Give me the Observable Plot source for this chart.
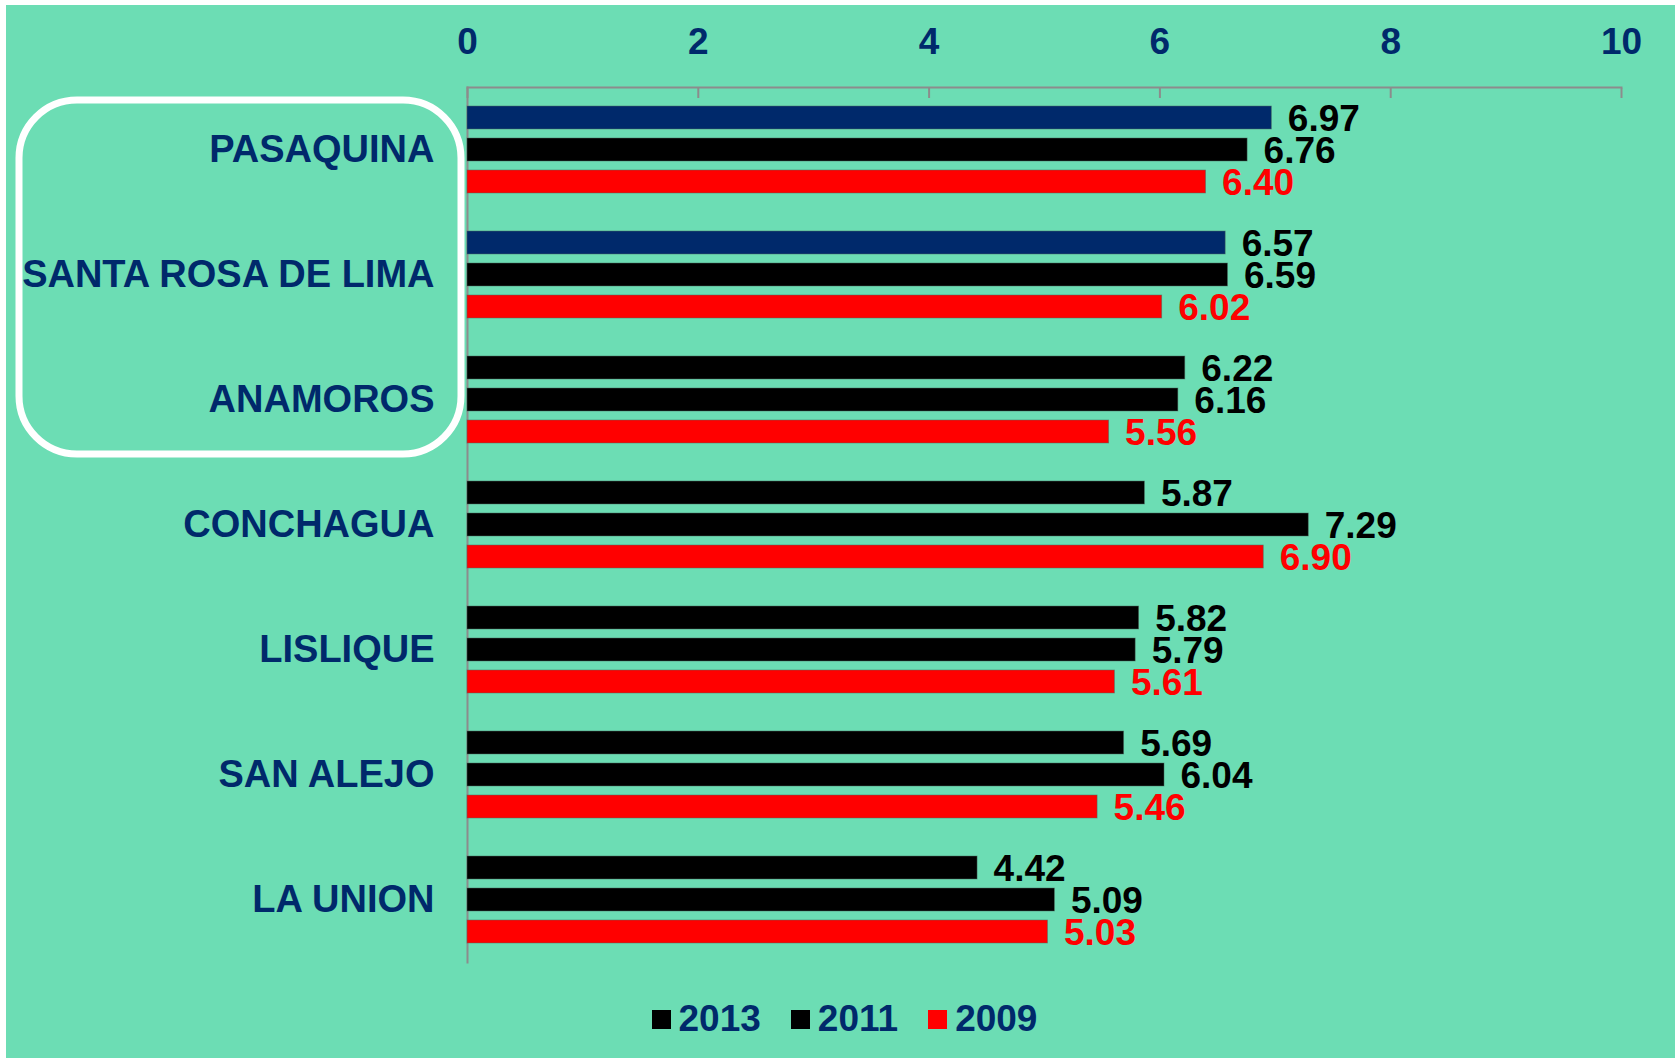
<!DOCTYPE html>
<html>
<head>
<meta charset="utf-8">
<script src="https://cdn.jsdelivr.net/npm/d3@7"></script>
<script src="https://cdn.jsdelivr.net/npm/@observablehq/plot@0.6"></script>
<style>
  html, body { margin: 0; padding: 0; background: #ffffff; }
  #wrap { position: absolute; left: 6px; top: 5px; width: 1669px; height: 1053px; background: #6cddb4; font-family: "Liberation Sans", Arial, sans-serif; }
  #legend { height: 78px; display: flex; align-items: center; justify-content: center; padding-left: 8px; }
  .item { display: flex; align-items: center; margin: 0 15px; }
  .sw { width: 19px; height: 19px; margin-right: 8px; }
  .lab { font-size: 37px; font-weight: bold; color: #00296b; }
</style>
</head>
<body>
<div id="wrap">
  <div id="chart"></div>
  <div id="legend"></div>
</div>
<script>
const towns = ["PASAQUINA", "SANTA ROSA DE LIMA", "ANAMOROS", "CONCHAGUA", "LISLIQUE", "SAN ALEJO", "LA UNION"];
const years = ["2013", "2011", "2009"];
const v2013 = [6.97, 6.57, 6.22, 5.87, 5.82, 5.69, 4.42];
const v2011 = [6.76, 6.59, 6.16, 7.29, 5.79, 6.04, 5.09];
const v2009 = [6.40, 6.02, 5.56, 6.90, 5.61, 5.46, 5.03];
const highlighted = ["PASAQUINA", "SANTA ROSA DE LIMA"];
const boxed = ["PASAQUINA", "ANAMOROS"];
const xTicks = [0, 2, 4, 6, 8, 10];

const NAVY = "#00296b";
const series = [v2013, v2011, v2009];
const rows = towns.flatMap((t, i) => years.map((y, j) => ({town: t, year: y, value: series[j][i]})));

const barFill = d => d.year === "2009" ? "#ff0000" : (d.year === "2013" && highlighted.includes(d.town) ? NAVY : "#000000");

const W = 1669, H = 975, ML = 461, MR = 54, MT = 82, MB = 18;

const plot = Plot.plot({
  width: W, height: H,
  marginLeft: ML, marginRight: MR, marginTop: MT, marginBottom: MB,
  style: {background: "transparent", fontFamily: "'Liberation Sans', Arial, sans-serif", overflow: "visible"},
  x: {domain: [0, 10], axis: null},
  y: {domain: years, axis: null, paddingInner: 0.277, paddingOuter: 0.56},
  fy: {domain: towns, padding: 0, axis: null},
  marks: [
    Plot.axisFy({anchor: "left", tickSize: 0, tickPadding: 33, fontSize: 38, fontWeight: "bold", color: NAVY, label: null}),
    Plot.axisX(xTicks, {anchor: "top", tickSize: 0, tickPadding: 34, tickFormat: d => String(d), fontSize: 37, fontWeight: "bold", color: NAVY, label: null}),
    Plot.axisX(xTicks, {anchor: "top", tickSize: -10, text: null, color: "#8c8c8c", strokeWidth: 2, label: null}),
    Plot.frame({anchor: "top", facet: "super", stroke: "#8c8c8c", strokeWidth: 2}),
    Plot.frame({anchor: "left", facet: "super", stroke: "#8c8c8c", strokeWidth: 2}),
    Plot.barX(rows, {x: "value", y: "year", fy: "town", fill: barFill, stroke: "#4d6d60", strokeWidth: 0.8, strokeOpacity: 0.6}),
    Plot.text(rows, {x: "value", y: "year", fy: "town", text: d => d.value.toFixed(2), textAnchor: "start", dx: 16, dy: 1, fontSize: 37, fontWeight: "bold", fill: d => d.year === "2009" ? "#ff0000" : "#000000"})
  ]
});
document.getElementById("chart").appendChild(plot);

// rounded highlight box around first three town labels
const fy = plot.scale("fy");
const y0 = fy.apply(boxed[0]) + 13;
const y1 = fy.apply(boxed[1]) + fy.bandwidth - 8;
d3.select(plot).append("rect")
  .attr("x", 13).attr("y", y0)
  .attr("width", ML - 6 - 13).attr("height", y1 - y0)
  .attr("rx", 58).attr("ry", 58)
  .attr("fill", "none").attr("stroke", "#ffffff").attr("stroke-width", 7);

// legend
const legendColors = ["#000000", "#000000", "#ff0000"];
const legend = d3.select("#legend");
years.forEach((y, i) => {
  const it = legend.append("div").attr("class", "item");
  it.append("div").attr("class", "sw").style("background", legendColors[i]);
  it.append("div").attr("class", "lab").text(y);
});
</script>
</body>
</html>
